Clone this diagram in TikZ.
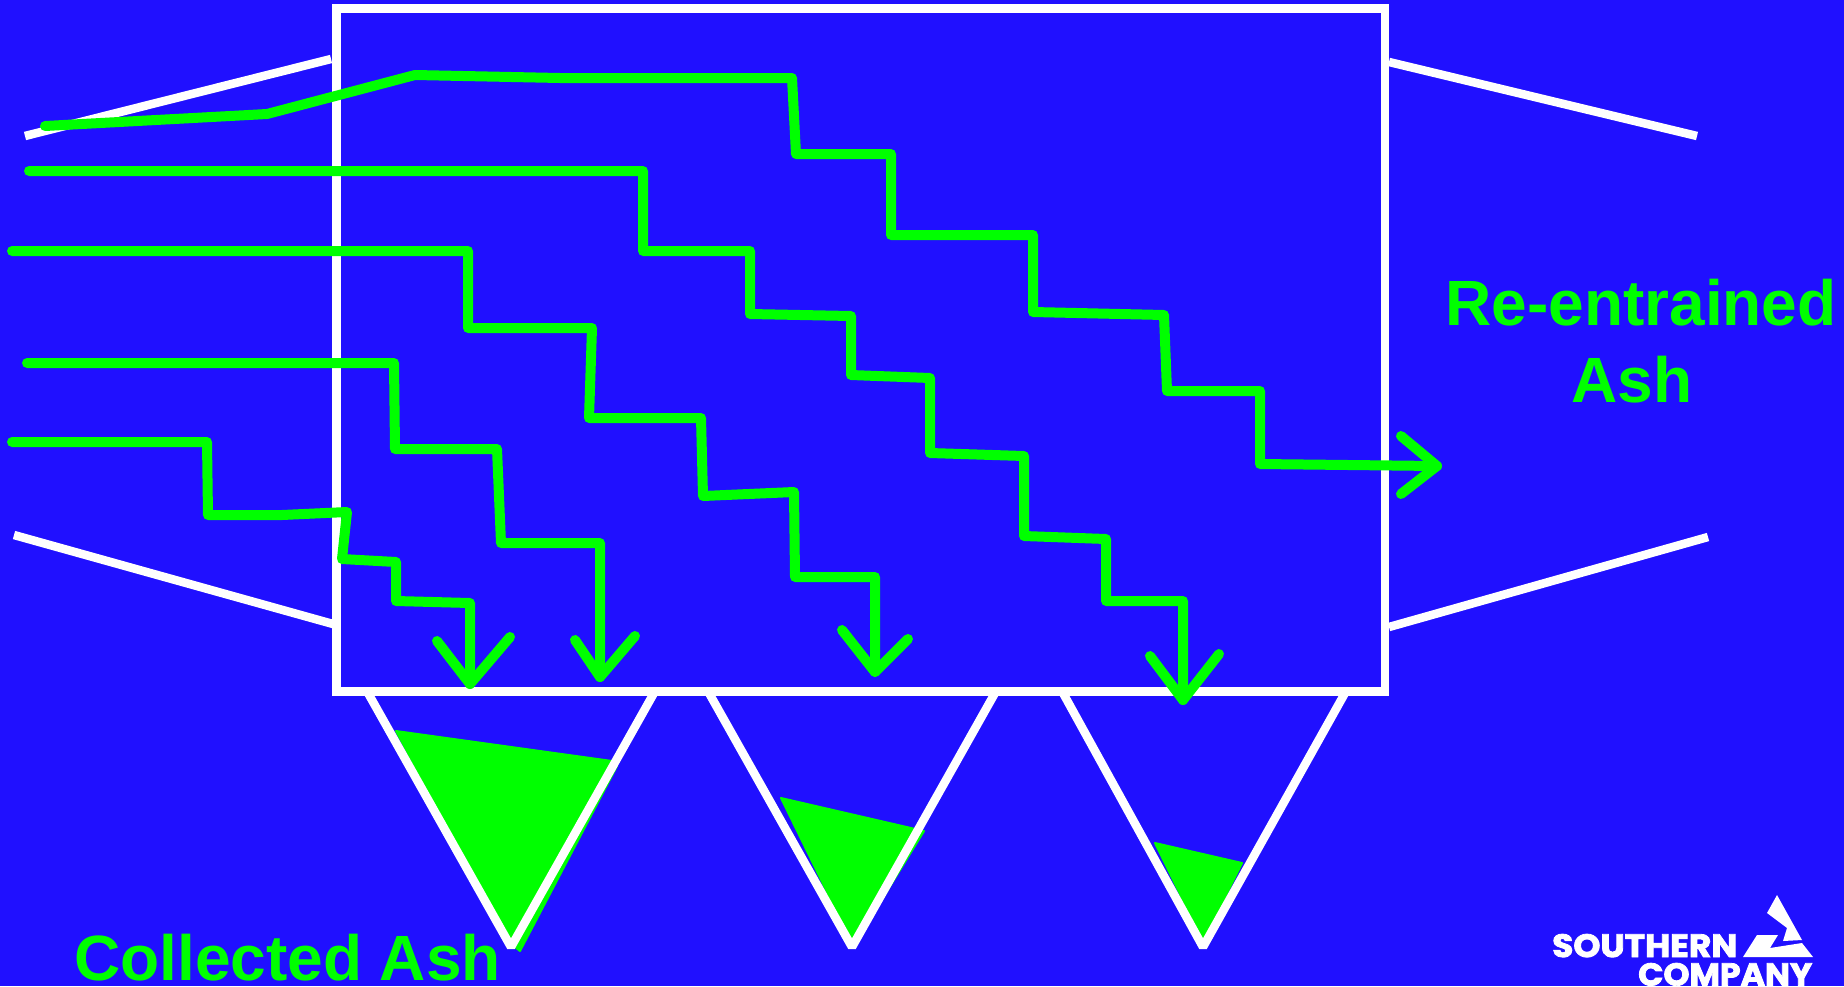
\documentclass[tikz,border=0pt]{standalone}
\usepackage{graphicx}
\usepackage{fontspec}
\setmainfont{Liberation Sans}
\newfontfamily\logofont[BoldFeatures={FakeBold=2.5}]{Poppins}
\definecolor{bgblue}{RGB}{32,16,255}
\definecolor{ashgreen}{RGB}{0,255,0}
\tikzset{
  wall/.style={draw=white,line width=8.5pt,line join=bevel},
  box/.style={draw=white,line width=8.5pt},
  gas/.style={draw=ashgreen,line width=10pt,line cap=round,line join=round},
  ash/.style={fill=ashgreen,draw=ashgreen,line width=2pt,line join=round},
  label/.style={text=ashgreen,font=\fontsize{64}{74}\selectfont\bfseries,inner sep=0pt},
  logotext/.style={text=white,inner sep=0pt,font=\logofont\bfseries}
}
\begin{document}
\begin{tikzpicture}[x=1pt,y=-1pt]
\path[use as bounding box,fill=bgblue] (0,0) rectangle (1844,986);
\clip (0,0) rectangle (1844,986);
% ash piles
\path[ash] (396,731) -- (612,761) -- (617,766) -- (520,951) -- (510,943) -- cycle;
\path[ash] (781,798) -- (924,831) -- (860,935) -- (851,941) -- cycle;
\path[ash] (1155,843) -- (1242,863) -- (1203,941) -- cycle;
% hoppers
\draw[wall] (368,693) -- (511,947) -- (654,693);
\draw[wall] (709,693) -- (852,947) -- (995,693);
\draw[wall] (1063,693) -- (1203,947) -- (1345,693);
% casing
\draw[box] (336.5,8.5) rectangle (1385,691.5);
% duct
\draw[wall] (25,136) -- (331,59);
\draw[wall] (14,535) -- (333,624);
\draw[wall] (1389,62) -- (1697,136);
\draw[wall] (1389,627) -- (1708,537);
% gas streams
\draw[gas] (45,126) -- (267,114) -- (415,75) -- (560,78) -- (792,78) -- (796,154) -- (891,154) -- (891,235) -- (1033,235) -- (1033,312) -- (1164,315) -- (1167,391) -- (1260,391) -- (1260,464) -- (1437,466);
\draw[gas] (1401,436) -- (1437,466) -- (1401,494);
\draw[gas] (29,171) -- (643,171) -- (643,251) -- (750,251) -- (750,314) -- (851,316) -- (851,375) -- (930,378) -- (930,453) -- (1024,456) -- (1024,536) -- (1106,539) -- (1106,601) -- (1183,601) -- (1183,700);
\draw[gas] (1150,656) -- (1183,700) -- (1219,654);
\draw[gas] (12,251) -- (468,251) -- (468,328) -- (592,328) -- (589,418) -- (701,418) -- (703,496) -- (794,492) -- (795,577) -- (875,577) -- (875,672);
\draw[gas] (842,630) -- (875,672) -- (908,639);
\draw[gas] (27,363) -- (394,363) -- (395,449) -- (497,449) -- (501,543) -- (600,543) -- (600,677);
\draw[gas] (575,640) -- (600,677) -- (635,636);
\draw[gas] (12,442) -- (207,442) -- (208,515) -- (282,515) -- (347,512) -- (342,559) -- (396,562) -- (396,601) -- (470,603) -- (470,684);
\draw[gas] (437,641) -- (470,684) -- (510,637);
% labels
\node[label,anchor=base] (reent1) at (1641,325) {Re-entrained};
\node[label,anchor=base] (reent2) at (1632,402) {Ash};
\node[label,anchor=base west] (coll) at (74,980) {Collected Ash};
% logo
\node[logotext,anchor=base west] (south) at (1552,957) {\resizebox{185pt}{23pt}{SOUTHERN}};
\node[logotext,anchor=base west] (comp) at (1638,985.5) {\resizebox{174pt}{22.5pt}{COMPANY}};
\fill[white] (1777,895) -- (1802,940) -- (1783,941) -- (1787,928) -- (1767,913) -- cycle;
\fill[white] (1743,957) -- (1757,935) -- (1778,935) -- (1770,948) -- (1802,943) -- (1813,957) -- cycle;
\end{tikzpicture}
\end{document}
